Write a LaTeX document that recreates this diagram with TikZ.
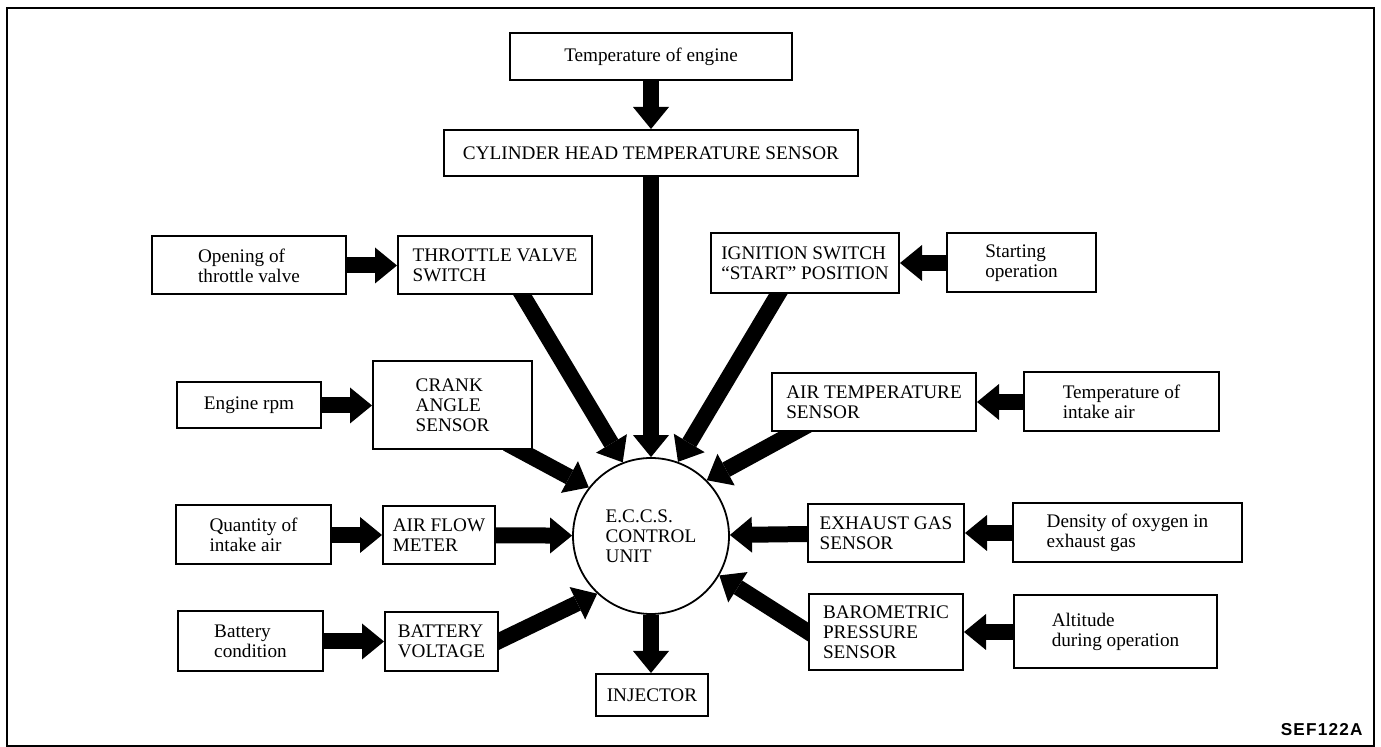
\documentclass[tikz,border=0pt]{standalone}
\usepackage{fontspec}
\setmainfont{Liberation Serif}
\newfontfamily\labelfont[LetterSpace=7]{Liberation Sans}
\usetikzlibrary{arrows.meta,calc}
\pgfdeclarelayer{bg}
\pgfsetlayers{bg,main}
\begin{document}
\begin{tikzpicture}[x=0.5pt,y=-0.5pt,
  box/.style 2 args={draw, line width=1pt, fill=white, minimum width=#1*0.5pt,
    minimum height=#2*0.5pt, inner sep=0pt, align=left,
    font=\fontsize{9.6}{10}\selectfont},
  ecubox/.style={circle, draw, line width=0.9pt, fill=white, minimum size=78pt,
    inner sep=0pt, align=left, font=\fontsize{9.6}{10}\selectfont},
  bigarrow/.style={line width=8pt, -{Triangle[width=18pt,length=11pt,line width=0pt]}},
]
\useasboundingbox (0,0) rectangle (1381,747);
\draw[line width=1pt] (7,8) rectangle (1374,746);

% nodes
\node[box={282}{47}] (teng) at (651,56.5) {Temperature of engine};
\node[box={414}{46}] (chts) at (651,153) {CYLINDER HEAD TEMPERATURE SENSOR};
\node[box={194}{58}] (open) at (249,265.5) {Opening of\\throttle valve};
\node[box={194}{58}] (thr) at (495,265.5) {THROTTLE VALVE\\SWITCH};
\node[box={188}{60}] (ign) at (805,263) {IGNITION SWITCH\\“START” POSITION};
\node[box={149}{59}] (start) at (1021.5,263) {Starting\\operation};
\node[box={144}{46}] (rpm) at (249,405.5) {Engine rpm};
\node[box={159}{88}] (crank) at (452.5,405.5) {CRANK\\ANGLE\\SENSOR};
\node[box={204}{58}] (airt) at (874,402) {AIR TEMPERATURE\\SENSOR};
\node[box={195}{59}] (tia) at (1121.5,402) {Temperature of\\intake air};
\node[box={155}{59}] (qty) at (253.5,535) {Quantity of\\intake air};
\node[box={112}{58}] (afm) at (439,535) {AIR FLOW\\METER};
\node[box={156}{58}] (exh) at (886,533) {EXHAUST GAS\\SENSOR};
\node[box={229}{59}] (dens) at (1127.5,533) {Density of oxygen in\\exhaust gas};
\node[box={145}{60}] (batc) at (250.5,641.5) {Battery\\condition};
\node[box={113}{59}] (batv) at (441.5,641.5) {BATTERY\\VOLTAGE};
\node[box={154}{76}] (baro) at (886,632) {BAROMETRIC\\PRESSURE\\SENSOR};
\node[box={203}{73}] (alt) at (1115.5,632) {Altitude\\during operation};
\node[box={112}{42}] (inj) at (652,695) {INJECTOR};
\node[ecubox] (ecu) at (651,536) {E.C.C.S.\\CONTROL\\UNIT};
\node[anchor=base east, inner sep=0pt, font=\labelfont\bfseries\fontsize{8.6}{10}\selectfont] (sef) at (1363,735) {SEF122A};

% connectors
\begin{pgfonlayer}{bg}
\draw[bigarrow] (teng) -- (chts);
\draw[bigarrow] (chts) -- (ecu);
\draw[bigarrow] (open) -- (thr);
\draw[bigarrow] (start) -- (ign);
\draw[bigarrow] (rpm) -- (crank);
\draw[bigarrow] (tia) -- (airt);
\draw[bigarrow] (qty) -- (afm);
\draw[bigarrow] (dens) -- (exh);
\draw[bigarrow] (batc) -- (batv);
\draw[bigarrow] (alt) -- (baro);
\draw[bigarrow] (afm) -- (ecu);
\draw[bigarrow] (exh) -- (ecu);
\draw[bigarrow] ($(thr.south)+(20,-13)$) -- (ecu.111);
\draw[bigarrow] ($(ign.south)+(-19,-13)$) -- (ecu.70);
\draw[bigarrow] ($(crank.south)+(54.5,-7)$) -- (ecu.142);
\draw[bigarrow] ($(airt.south)+(-66,-7)$) -- (ecu.45);
\draw[bigarrow] ($(batv.east)+(-13.5,6)$) -- (ecu.227);
\draw[bigarrow] ($(baro.west)+(12.7,8)$) -- (ecu.330);
\draw[bigarrow] (ecu.south) -- (ecu.south |- inj.north);
\end{pgfonlayer}
\end{tikzpicture}
\end{document}
